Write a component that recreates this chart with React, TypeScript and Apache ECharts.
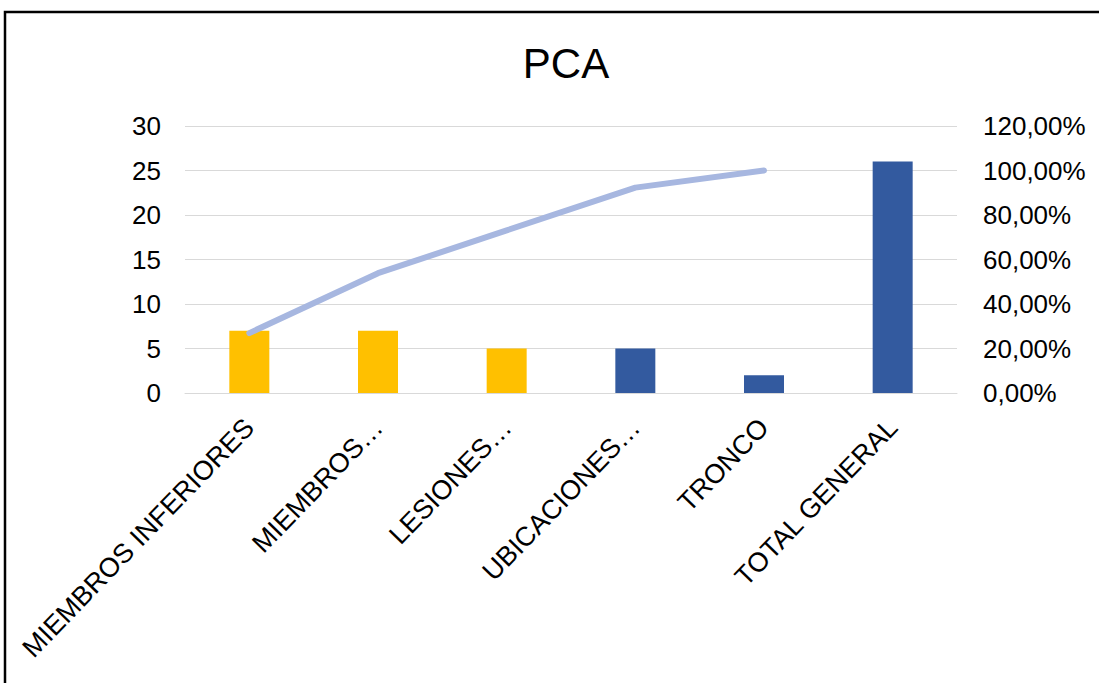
import React, { useEffect, useRef } from "react";
import * as echarts from "echarts";

const categories = ["MIEMBROS INFERIORES", "MIEMBROS…", "LESIONES…", "UBICACIONES…", "TRONCO", "TOTAL GENERAL"];
const counts = [7, 7, 5, 5, 2, 26];
const barColors = ["#FFC000", "#FFC000", "#FFC000", "#335A9F", "#335A9F", "#335A9F"];
const cumulativePct: (number | string)[] = [26.92, 53.85, 73.08, 92.31, 100, "-"];
const leftTicks = { min: 0, max: 30, interval: 5 };
const rightTicks = { min: 0, max: 120, interval: 20 };

const FONT = "'Liberation Sans', Arial, sans-serif";

export default function App() {
  const ref = useRef<HTMLDivElement>(null);
  useEffect(() => {
    if (!ref.current) return;
    const chart = echarts.init(ref.current, null, { renderer: "svg" });
    chart.setOption({
      animation: false,
      backgroundColor: "#ffffff",
      textStyle: { fontFamily: FONT },
      title: {
        text: "PCA",
        left: 561,
        top: 37,
        textAlign: "center",
        textStyle: { fontFamily: FONT, fontSize: 42, fontWeight: "normal", color: "#000" },
      },
      graphic: [
        {
          type: "rect",
          shape: { x: 5, y: 12, width: 1200, height: 800 },
          style: { fill: "none", stroke: "#000", lineWidth: 2.5 },
          silent: true,
        },
      ],
      grid: { left: 185, right: 142, top: 126, bottom: 290, containLabel: false },
      xAxis: {
        type: "category",
        data: categories,
        axisLine: { show: true, lineStyle: { color: "#D9D9D9", width: 1 } },
        axisTick: { show: false },
        axisLabel: {
          rotate: 46,
          interval: 0,
          margin: 30,
          fontSize: 27,
          color: "#000",
          fontFamily: FONT,
        },
      },
      yAxis: [
        {
          type: "value",
          min: leftTicks.min,
          max: leftTicks.max,
          interval: leftTicks.interval,
          axisLine: { show: false },
          axisTick: { show: false },
          splitLine: { show: true, lineStyle: { color: "#D9D9D9", width: 1 } },
          axisLabel: { fontSize: 26, color: "#000", margin: 24, fontFamily: FONT },
        },
        {
          type: "value",
          min: rightTicks.min,
          max: rightTicks.max,
          interval: rightTicks.interval,
          axisLine: { show: false },
          axisTick: { show: false },
          splitLine: { show: false },
          axisLabel: {
            fontSize: 26,
            color: "#000",
            margin: 26,
            fontFamily: FONT,
            formatter: (v: number) => v.toFixed(2).replace(".", ",") + "%",
          },
        },
      ],
      series: [
        {
          type: "bar",
          yAxisIndex: 0,
          barWidth: 40,
          data: counts.map((v, i) => ({ value: v, itemStyle: { color: barColors[i] } })),
        },
        {
          type: "line",
          yAxisIndex: 1,
          data: cumulativePct,
          symbol: "none",
          lineStyle: { color: "#A7B7E0", width: 6, cap: "round", join: "round" },
        },
      ],
    });
    return () => chart.dispose();
  }, []);
  return (
    <div
      ref={ref}
      style={{ position: "fixed", left: 0, top: 0, width: 1099, height: 683 }}
    />
  );
}
